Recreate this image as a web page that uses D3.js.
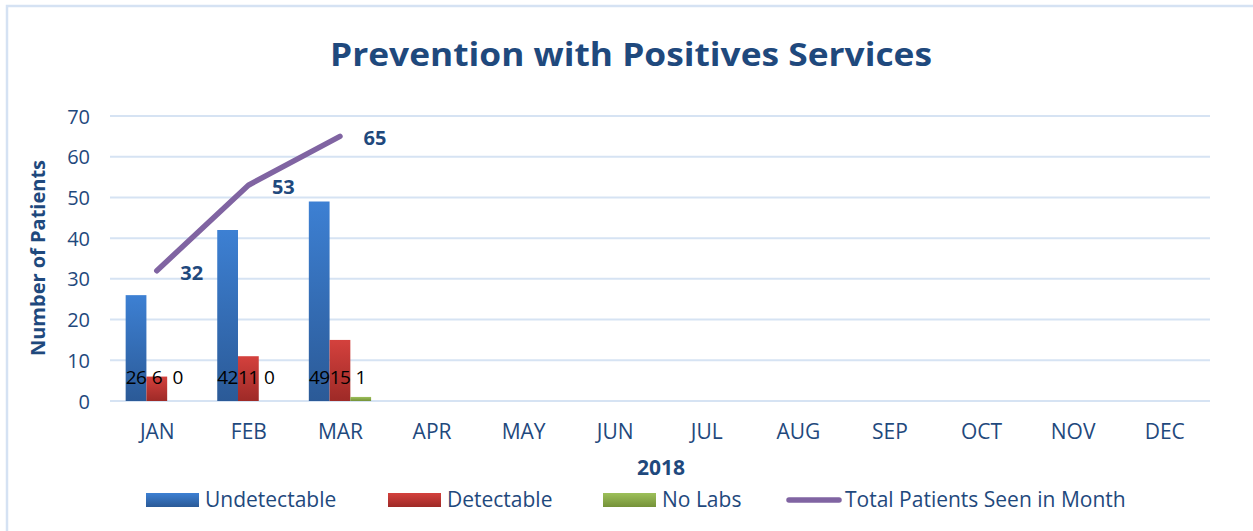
<!DOCTYPE html>
<html><head><meta charset="utf-8">
<script src="https://cdn.jsdelivr.net/npm/d3@7"></script>
<style>body{margin:0;background:#fff}svg{display:block}text{font-family:"Open Sans",sans-serif}</style>
</head><body>
<svg id="c" width="1253" height="531"></svg>
<script>
const months = ["JAN","FEB","MAR","APR","MAY","JUN","JUL","AUG","SEP","OCT","NOV","DEC"];
const undetectable = [26, 42, 49];
const detectable = [6, 11, 15];
const noLabs = [0, 0, 1];
const totalSeen = [32, 53, 65];
const yTicks = [0,10,20,30,40,50,60,70];
const seriesNames = ["Undetectable","Detectable","No Labs"];
const lineName = "Total Patients Seen in Month";
const titleText = "Prevention with Positives Services";
const xTitle = "2018";
const yTitle = "Number of Patients";

const svg = d3.select("#c");
const navy = "#1F497D";
const defs = svg.append("defs");
const grads = [["gBlue","#3D80D3","#2B5A97"],["gRed","#D4413D","#9E2A27"],["gGreen","#9DC05A","#759239"]];
grads.forEach(([id,a,b])=>{
  const g = defs.append("linearGradient").attr("id",id).attr("x1",0).attr("y1",0).attr("x2",0).attr("y2",1);
  g.append("stop").attr("offset","0%").attr("stop-color",a);
  g.append("stop").attr("offset","100%").attr("stop-color",b);
});
const fills = ["url(#gBlue)","url(#gRed)","url(#gGreen)"];

// border
svg.append("path").attr("d","M7,531 V6 H1253").attr("fill","none").attr("stroke","#D5E2F3").attr("stroke-width",2.5);

const x0 = d3.scaleBand().domain(months).range([111,1210]).paddingInner(0.32).paddingOuter(0.16);
const x1 = d3.scaleBand().domain(seriesNames).range([0,x0.bandwidth()]);
const y = d3.scaleLinear().domain([0,70]).range([401,116]);

// gridlines
svg.append("g").selectAll("line").data(yTicks).join("line")
  .attr("x1",110).attr("x2",1210).attr("y1",d=>y(d)).attr("y2",d=>y(d))
  .attr("stroke","#D6E3F3").attr("stroke-width",2);

// y axis labels
const yAxis = d3.axisLeft(y).tickValues(yTicks).tickSize(0).tickPadding(0);
const ya = svg.append("g").attr("transform","translate(90,0)").call(yAxis);
ya.select(".domain").remove();
ya.selectAll("text").attr("font-size",20).attr("fill",navy).attr("font-family","Open Sans").attr("dy","0.35em");

// x axis labels
const xAxis = d3.axisBottom(d3.scalePoint().domain(months).range([x0(months[0])+x0.bandwidth()/2, x0(months[11])+x0.bandwidth()/2])).tickSize(0).tickPadding(0);
const xa = svg.append("g").attr("transform","translate(0,432)").call(xAxis);
xa.select(".domain").remove();
xa.selectAll("text").attr("font-size",21).attr("fill",navy).attr("font-family","Open Sans").attr("dy","0.35em");

// bars
const data = months.map((m,i)=>({m, vals:[undetectable[i],detectable[i],noLabs[i]]})).filter(d=>d.vals[0]!==undefined);
const grp = svg.append("g").selectAll("g").data(data).join("g").attr("transform",d=>`translate(${x0(d.m)},0)`);
grp.selectAll("rect").data(d=>d.vals.map((v,k)=>({v,k}))).join("rect")
  .attr("x",d=>x1(seriesNames[d.k])).attr("width",x1.bandwidth())
  .attr("y",d=>y(d.v)).attr("height",d=>y(0)-y(d.v)).attr("fill",d=>fills[d.k]);
grp.selectAll("text").data(d=>d.vals.map((v,k)=>({v,k}))).join("text")
  .attr("x",d=>x1(seriesNames[d.k])+x1.bandwidth()/2).attr("y",377).attr("dy","0.35em")
  .attr("text-anchor","middle").attr("font-size",19).attr("letter-spacing",-0.6).attr("fill","#000").text(d=>d.v);

// line
const lineData = totalSeen.map((v,i)=>({m:months[i],v}));
const line = d3.line().x(d=>x0(d.m)+x0.bandwidth()/2).y(d=>y(d.v));
svg.append("path").datum(lineData).attr("d",line).attr("fill","none")
  .attr("stroke","#8064A2").attr("stroke-width",5.5).attr("stroke-linecap","round").attr("stroke-linejoin","round");
svg.append("g").selectAll("text").data(lineData).join("text")
  .attr("x",d=>x0(d.m)+x0.bandwidth()/2+35).attr("y",d=>y(d.v)+2).attr("dy","0.35em")
  .attr("text-anchor","middle").attr("font-size",20).attr("font-weight","bold").attr("fill",navy).text(d=>d.v);

// titles
svg.append("text").attr("x",631).attr("y",54).attr("dy","0.35em").attr("text-anchor","middle")
  .attr("font-size",33).attr("font-weight","bold").attr("fill",navy)
  .attr("textLength",602).attr("lengthAdjust","spacingAndGlyphs").text(titleText);
svg.append("text").attr("x",661).attr("y",468).attr("dy","0.35em").attr("text-anchor","middle")
  .attr("font-size",21).attr("font-weight","bold").attr("fill",navy).text(xTitle);
svg.append("text").attr("transform","translate(38,258) rotate(-90)").attr("dy","0.35em").attr("text-anchor","middle")
  .attr("font-size",20).attr("font-weight","bold").attr("fill",navy).text(yTitle);

// legend
const legX = [146,388,603];
seriesNames.forEach((n,k)=>{
  svg.append("rect").attr("x",legX[k]).attr("y",493).attr("width",53).attr("height",14).attr("fill",fills[k]);
  svg.append("text").attr("x",legX[k]+59).attr("y",500).attr("dy","0.35em").attr("font-size",21).attr("fill",navy).text(n);
});
svg.append("line").attr("x1",789).attr("x2",839).attr("y1",500).attr("y2",500)
  .attr("stroke","#8064A2").attr("stroke-width",5.5).attr("stroke-linecap","round");
svg.append("text").attr("x",845).attr("y",500).attr("dy","0.35em").attr("font-size",21).attr("fill",navy).text(lineName);
</script>
</body></html>
